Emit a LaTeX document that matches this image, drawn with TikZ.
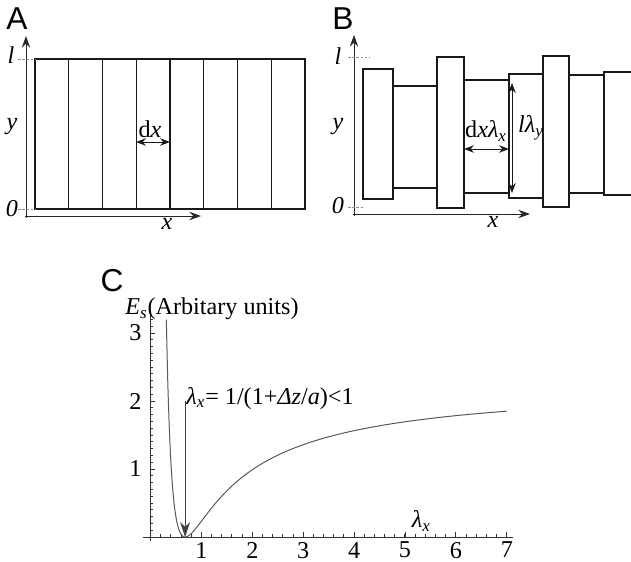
\documentclass[tikz,border=0pt]{standalone}
\usepackage{fontspec}
\setmainfont{Liberation Serif}
\newfontfamily\panelfont{Liberation Sans}
\usetikzlibrary{arrows.meta,calc}
\tikzset{
  axarr/.style ={-{Stealth[length=7pt,width=5pt,inset=2.4pt]}, line width=0.6pt, draw=black!85},
  dimarr/.style={{Stealth[length=6pt,width=4.5pt,inset=2pt]}-{Stealth[length=6pt,width=4.5pt,inset=2pt]},
                 line width=0.6pt, draw=black!90},
  minarr/.style={-{Stealth[length=9pt,width=6pt,inset=3pt]}, line width=0.6pt, draw=black!75},
  strip/.style ={draw=black!90, line width=0.65pt},
  guide/.style ={draw=black!45, dash pattern=on 1.5pt off 1pt, line width=0.4pt},
  lbl/.style   ={font=\fontsize{14.5}{17}\selectfont, inner sep=0pt},
  panel/.style ={font=\panelfont\fontsize{19}{22}\selectfont, inner sep=0pt},
  num/.style   ={font=\fontsize{14.5}{17}\selectfont, inner sep=0pt},
  axc/.style   ={draw=black!80, line width=0.6pt},
  curve/.style ={draw=black!65, line width=0.6pt},
}
\newcommand{\lx}{\textit{λ}\textsubscript{\textit{x}}}

\begin{document}
\begin{tikzpicture}[x=0.6pt, y=-0.6pt]
  \useasboundingbox (0,0) rectangle (631,561);

  % A: undeformed strips
  \node[panel] (pa) at (17,19) {A};
  \foreach \i in {0,...,7}
    \draw[strip] ({35+33.75*\i},59) rectangle ({35+33.75*(\i+1)},209);
  \coordinate (ay0) at (26,218);
  \coordinate (ay1) at (26,36);
  \coordinate (ax0) at (25,216);
  \coordinate (ax1) at (201,216);
  \draw[axarr] (ay0) -- (ay1);
  \draw[axarr] (ax0) -- (ax1);
  \draw[guide] (18,59) -- (35,59);
  \draw[guide] (18,209) -- (35,209);
  \node[lbl] (al) at (11,55) {\textit{l}};
  \node[lbl] (ay) at (12,127) {\textit{y}};
  \node[lbl] (a0) at (12,209) {\textit{0}};
  \node[lbl] (ax) at (167,224) {\textit{x}};
  \coordinate (dxa) at (136,142);
  \coordinate (dxb) at (170,142);
  \draw[dimarr] (dxa) -- (dxb);
  \node[lbl] (adx) at (150,129) {d\textit{x}};

  % B: deformed strips
  \node[panel] (pb) at (343,19) {B};
  \foreach \xa/\xb/\ya/\yb in {363/393/69/199, 393/437/86/188, 437/464/57/208,
      464/509/80/193, 509/543/74/198, 543/569/56/207, 569/604/75/193}
    \draw[strip] (\xa,\ya) rectangle (\xb,\yb);
  \draw[strip] (632,72) -- (604,72) -- (604,195) -- (632,195);
  \coordinate (by0) at (354,216);
  \coordinate (by1) at (354,35);
  \coordinate (bx0) at (353,214);
  \coordinate (bx1) at (530,214);
  \draw[axarr] (by0) -- (by1);
  \draw[axarr] (bx0) -- (bx1);
  \draw[guide] (348,57) -- (369,57);
  \draw[guide] (348,207) -- (363,207);
  \node[lbl] (bl) at (338,56) {\textit{l}};
  \node[lbl] (by) at (338,127) {\textit{y}};
  \node[lbl] (b0) at (338,206) {\textit{0}};
  \node[lbl] (bx) at (493,222) {\textit{x}};
  \coordinate (bda) at (464,149);
  \coordinate (bdb) at (509,149);
  \draw[dimarr] (bda) -- (bdb);
  \node[lbl] (bdx) at (486,131) {d\textit{xλ}\textsubscript{\textit{x}}};
  \coordinate (bva) at (512,83);
  \coordinate (bvb) at (512,193);
  \draw[dimarr] (bva) -- (bvb);
  \node[lbl] (bly) at (531,128) {\textit{lλ}\textsubscript{\textit{y}}};

  % C: energy against stretch
  \node[panel] (pc) at (112,281) {C};
  \begin{scope}[shift={(150.5,537)}, x={(30.54pt,0pt)}, y={(0pt,40.8pt)}]
    \coordinate (o) at (0,0);
    \draw[axc] (-0.15,0) -- (7.12,0);
    \draw[axc] (0,-0.06) -- (0,3.27);
    \foreach \t in {0.2,0.4,...,7.01}
      \draw[axc] (\t,0) -- (\t,0.04);
    \foreach \t in {1,...,7} {
      \draw[axc] (\t,0) -- (\t,0.07);
      \node[num, anchor=north] (xt\t) at (\t,-0.07) {\t};
    }
    \foreach \t in {0.1,0.2,...,3.21}
      \draw[axc] (0,\t) -- (0.05,\t);
    \foreach \t in {1,2,3} {
      \draw[axc] (0,\t) -- (0.09,\t);
      \node[num, anchor=east] (yt\t) at (-0.17,\t) {\t};
    }
    \draw[curve] plot[domain=0.311:7, samples=250, smooth] (\x, {2.27*(1-0.68/\x)^2});
    \coordinate (atop) at (0.68,2.0);
    \coordinate (amin) at (0.68,0);
    \draw[minarr] (atop) -- (amin);
    \node[lbl, anchor=west] (eq) at (0.70,2.04) {\lx= 1/(1+\textit{Δz}/\textit{a})<1};
    \node[lbl, anchor=west] (es) at (-0.5,3.35) {\textit{E}\textsubscript{\textit{s}}(Arbitary units)};
    \node[lbl] (lxl) at (5.32,0.235) {\lx};
  \end{scope}
\end{tikzpicture}
\end{document}
